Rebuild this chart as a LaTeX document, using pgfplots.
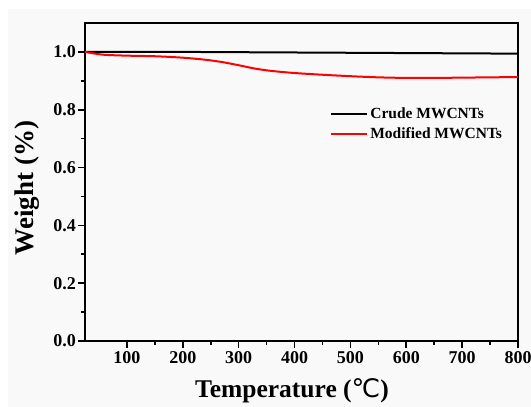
\documentclass[border=0pt]{standalone}
\usepackage{fontspec}
\setmainfont{Liberation Serif}
\newfontfamily\sym{DejaVu Sans}
\usepackage{pgfplots}
\pgfplotsset{compat=1.18}
\definecolor{bg}{HTML}{F9F9F9}
\begin{document}
\begin{tikzpicture}[x=1pt,y=1pt]
\path[use as bounding box] (0,0) rectangle (531,407);
\fill[bg] (8,0) rectangle (531,398);
\begin{axis}[
  at={(85pt,66pt)}, anchor=south west,
  scale only axis, width=433pt, height=318pt,
  xmin=25, xmax=800, ymin=0, ymax=1.1,
  xtick={100,200,...,800},
  ytick={0,0.2,...,1.0},
  minor tick num=1,
  xtick pos=bottom, ytick pos=left, tick align=outside,
  major tick length=7pt, minor tick length=4pt,
  major tick style={line width=1.6pt, black},
  minor tick style={line width=1.6pt, black},
  axis line style={line width=1.8pt},
  /pgf/number format/assume math mode=true,
  yticklabel style={/pgf/number format/fixed,/pgf/number format/fixed zerofill,/pgf/number format/precision=1, font=\fontsize{18}{18}\selectfont\bfseries, inner sep=2pt},
  xticklabel style={font=\fontsize{18}{18}\selectfont\bfseries, inner sep=3pt},
  xlabel={Temperature ({\sym\mdseries ℃})},
  ylabel={Weight (\%)},
  xlabel style={font=\fontsize{25.5}{25.5}\selectfont\bfseries, at={(axis description cs:0.478,-0.157)}, anchor=center},
  ylabel style={font=\fontsize{27}{27}\selectfont\bfseries, at={(axis description cs:-0.134,0.481)}, anchor=center},
  legend style={draw=none, fill=none, at={(axis description cs:0.565,0.741)}, anchor=north west, font=\fontsize{15.5}{15.5}\selectfont\bfseries, row sep=2pt, inner sep=0pt, nodes={inner sep=2.5pt}},
  legend cell align=left,
  legend image code/.code={\draw[#1, line width=2pt] (0pt,0pt) -- (36pt,0pt);},
]
\addplot[black, line width=2pt] coordinates {
(25,1.000) (100,1.000) (200,1.000) (300,0.999) (400,0.998) (500,0.997) (600,0.996) (700,0.995) (800,0.994)
};
\addlegendentry{Crude MWCNTs}
\addplot[red, line width=2pt, smooth] coordinates {
(25,1.000) (40,0.995) (60,0.990) (100,0.987) (150,0.985) (200,0.980) (240,0.973) (270,0.965) (300,0.954) (330,0.942) (360,0.934) (400,0.927) (450,0.921) (500,0.916) (550,0.912) (600,0.910) (650,0.910) (700,0.911) (750,0.912) (800,0.913)
};
\addlegendentry{Modified MWCNTs}
\end{axis}
\end{tikzpicture}
\end{document}
